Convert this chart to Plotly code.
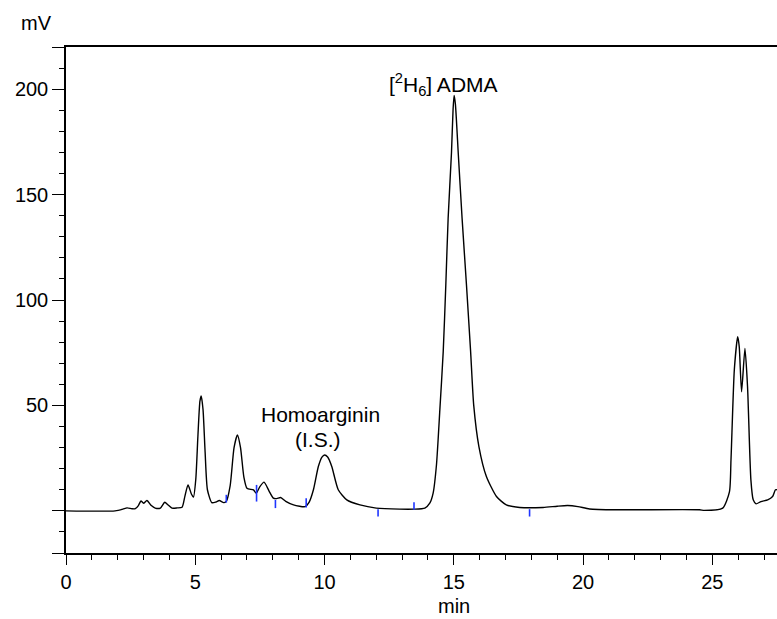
import plotly.graph_objects as go

# Chromatogram trace (time in min, signal in mV)
time_min = [0.0, 1.9, 2.2, 2.36, 2.55, 2.68, 2.8, 2.9, 3.0, 3.13, 3.3, 3.45, 3.65, 3.82, 3.95,
            4.1, 4.3, 4.49, 4.6, 4.72, 4.85, 4.93, 5.02, 5.1, 5.18, 5.23, 5.3, 5.38, 5.47, 5.64,
            5.8, 5.93, 6.1, 6.2, 6.35, 6.5, 6.63, 6.75, 6.88, 7.0, 7.25, 7.36, 7.5, 7.66, 7.85,
            8.02, 8.15, 8.3, 8.5, 8.8, 9.25, 9.4, 9.57, 9.76, 9.9, 10.0, 10.12, 10.28, 10.53,
            10.86, 11.37, 12.0, 12.9, 13.46, 13.88, 14.07, 14.2, 14.33, 14.46, 14.59, 14.69,
            14.78, 14.91, 14.97, 15.01, 15.06, 15.17, 15.32, 15.49, 15.65, 15.77, 15.97, 16.26,
            16.65, 17.03, 17.55, 18.45, 19.0, 19.4, 19.8, 20.25, 21.28, 24.5, 24.69, 25.4, 25.66,
            25.72, 25.85, 25.98, 26.04, 26.13, 26.26, 26.36, 26.49, 26.58, 26.69, 26.88, 27.14,
            27.33, 27.44, 27.5]
signal_mv = [0.0, 0.0, 0.8, 1.4, 1.0, 1.0, 2.5, 4.7, 3.6, 4.9, 2.5, 1.3, 1.3, 4.1, 2.8,
             1.3, 1.4, 1.7, 7.0, 12.3, 8.0, 6.5, 15.0, 35.0, 52.0, 54.5, 48.0, 28.0, 10.0, 3.9,
             4.2, 4.9, 3.9, 4.5, 12.0, 30.0, 36.0, 30.0, 16.0, 10.7, 9.9, 8.4, 11.5, 13.6, 9.5,
             6.0, 5.8, 6.3, 4.5, 2.8, 2.0, 4.0, 10.0, 21.0, 25.5, 26.5, 25.5, 21.0, 10.0,
             5.2, 2.8, 1.3, 0.8, 0.8, 1.3, 3.6, 8.4, 22.0, 48.0, 75.5, 107.0,
             138.7, 170.0, 190.0, 197.0, 193.0, 170.0, 138.7, 107.0, 75.5, 50.0, 30.5, 16.3,
             6.8, 2.8, 1.6, 1.6, 2.2, 2.5, 2.0, 0.9, 0.5, 0.5, 0.2, 1.3, 9.0,
             24.0, 67.0, 82.6, 77.8, 56.5, 77.0, 59.0, 14.7, 5.2, 3.3, 4.4, 5.2,
             6.8, 10.0, 10.0]

# Integration markers (blue ticks): time, lower and upper signal
mark_time = [6.2, 7.37, 8.1, 9.29, 12.07, 13.46, 17.93]
mark_low = [3.9, 4.4, 1.3, 1.6, -2.7, 0.5, -2.7]
mark_high = [7.6, 12.3, 5.2, 6.0, 0.8, 4.1, 0.8]

# Axis ticks
x_major = [0, 5, 10, 15, 20, 25]
y_major = [-20, 0, 50, 100, 150, 200, 220]
y_labels = ["", "", "50", "100", "150", "200", ""]

FONT = "Arial, Liberation Sans, sans-serif"

fig = go.Figure()
fig.add_trace(go.Scatter(x=time_min, y=signal_mv, mode="lines",
                         line=dict(color="black", width=1.4, shape="spline", smoothing=0.6),
                         hoverinfo="skip", showlegend=False))

mx, my = [], []
for t, lo, hi in zip(mark_time, mark_low, mark_high):
    mx += [t, t, None]
    my += [lo, hi, None]
fig.add_trace(go.Scatter(x=mx, y=my, mode="lines", line=dict(color="#1f35ff", width=1.6),
                         hoverinfo="skip", showlegend=False))

fig.update_layout(
    width=777, height=619,
    margin=dict(l=66, r=0, t=47, b=66),
    paper_bgcolor="white", plot_bgcolor="white",
    font=dict(family=FONT, size=20, color="black"),
    xaxis=dict(range=[0, 27.5], tickmode="array", tickvals=x_major,
               ticks="outside", ticklen=10, tickwidth=1.3, tickcolor="black",
               showline=True, linecolor="black", linewidth=1.5, mirror=True,
               showgrid=False, zeroline=False, automargin=False,
               minor=dict(tickmode="linear", tick0=0, dtick=1, ticks="outside",
                          ticklen=5, tickwidth=1.2, tickcolor="black", showgrid=False),
               tickfont=dict(size=20)),
    yaxis=dict(range=[-20, 220], tickmode="array", tickvals=y_major, ticktext=y_labels,
               ticks="outside", ticklen=12, tickwidth=1.3, tickcolor="black",
               showline=True, linecolor="black", linewidth=1.5,
               showgrid=False, zeroline=False, automargin=False,
               minor=dict(tickmode="linear", tick0=0, dtick=10, ticks="outside",
                          ticklen=5, tickwidth=1.2, tickcolor="black", showgrid=False),
               tickfont=dict(size=20)),
    annotations=[
        dict(text="mV", xref="paper", yref="paper", x=-0.042, y=1.048,
             xanchor="center", yanchor="middle", showarrow=False, font=dict(size=20)),
        dict(text="min", xref="paper", yref="paper", x=0.546, y=-0.105,
             xanchor="center", yanchor="middle", showarrow=False, font=dict(size=20)),
        dict(text="[<sup>2</sup>H<sub>6</sub>] ADMA", x=14.62, y=202, xref="x", yref="y",
             xanchor="center", yanchor="middle", showarrow=False, font=dict(size=21)),
        dict(text="Homoarginin", x=9.83, y=45.5, xref="x", yref="y",
             xanchor="center", yanchor="middle", showarrow=False, font=dict(size=21)),
        dict(text="(I.S.)", x=9.75, y=34, xref="x", yref="y",
             xanchor="center", yanchor="middle", showarrow=False, font=dict(size=21)),
    ],
)

fig.write_html("out.html", config={"displayModeBar": False},
               post_script="document.body.style.margin='0';document.body.style.overflow='hidden';")
